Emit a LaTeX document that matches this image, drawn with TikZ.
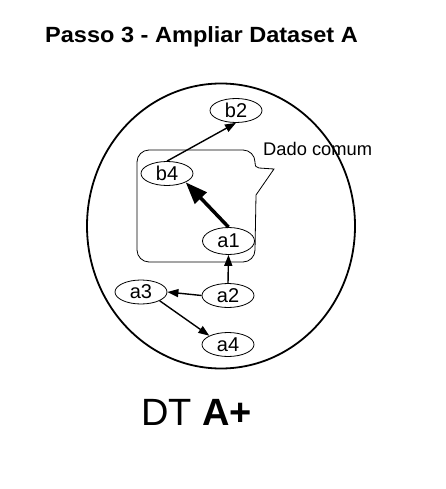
\documentclass[tikz,border=0pt]{standalone}
\usepackage{fontspec}
\setmainfont{Liberation Sans}
\usetikzlibrary{arrows.meta,shapes.geometric}
\begin{document}
\begin{tikzpicture}[x=1pt,y=-1pt,
  el/.style={ellipse,draw,line width=0.8pt,minimum width=52pt,minimum height=24pt,inner sep=0pt,font=\fontsize{20}{20}\selectfont},
  thin arrow/.style={line width=1.4pt,-{Triangle[length=11pt,width=8pt]}},
  thick arrow/.style={line width=3.5pt,-{Triangle[length=22pt,width=16pt]}}]
\useasboundingbox (0,0) rectangle (445,489);
% title
\node[anchor=base west,inner sep=0pt,font=\bfseries\fontsize{22}{22}\selectfont] (title) at (45,42.7) {\scalebox{1.07}[1]{Passo 3 - Ampliar Dataset A}};
% big circle
\node[ellipse,draw,line width=1.8pt,minimum width=268pt,minimum height=285pt,inner sep=0pt] (dt) at (221,226) {};
% callout
\draw[line width=0.8pt] (149,150) -- (243,150) .. controls (249.6,150) and (255,155.4) .. (255,162)
  .. controls (255,166) and (256,168) .. (259,168) -- (274,169) -- (256,195) -- (255,250)
  .. controls (255,256.6) and (249.6,262) .. (243,262) -- (149,262)
  .. controls (142.4,262) and (137,256.6) .. (137,250) -- (137,162)
  .. controls (137,155.4) and (142.4,150) .. (149,150) -- cycle;
\node[anchor=base west,inner sep=0pt,font=\fontsize{18.3}{18.3}\selectfont] (lbl) at (263,155) {Dado comum};
% nodes
\node[el] (b2) at (236,110.5) {b2};
\node[el] (b4) at (167,173.5) {b4};
\node[el,minimum height=27pt] (a1) at (228.5,241) {a1};
\node[el] (a2) at (228,295.5) {a2};
\node[el] (a3) at (141,292) {a3};
\node[el] (a4) at (228,344.5) {a4};
% arrows
\draw[thin arrow] (b4.north) -- (b2.south);
\draw[thick arrow] (a1.north) -- (b4.south east);
\draw[thin arrow] (a2.north) -- (a1.south);
\draw[thin arrow] (a2.west) -- (a3.east);
\draw[thin arrow] (a3.south east) -- (a4.north west);
% bottom label
\node[anchor=base west,inner sep=0pt,font=\fontsize{38}{38}\selectfont] (dtlabel) at (141,425.7) {DT \textbf{A+}};
\end{tikzpicture}
\end{document}
